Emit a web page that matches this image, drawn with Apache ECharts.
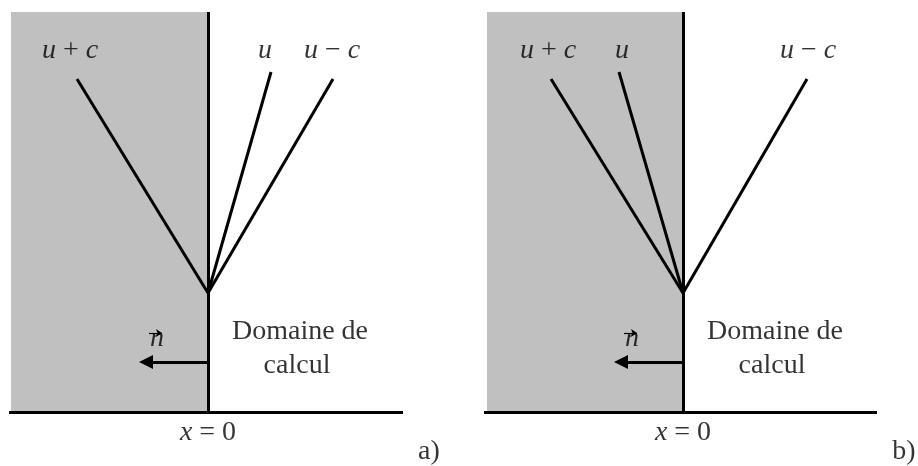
<!DOCTYPE html>
<html>
<head>
<meta charset="utf-8">
<script src="https://cdn.jsdelivr.net/npm/echarts@6/dist/echarts.min.js"></script>
<style>
  html, body { margin: 0; padding: 0; background: #ffffff; }
  #chart { width: 918px; height: 466px; }
</style>
</head>
<body>
<div id="chart"></div>
<script>
// panel labels and characteristic names
const panelNames = ["a)", "b)"];
const charNames = ["u + c", "u", "u − c"];
const boundaryLabel = "x = 0";
const domainLines = ["Domaine de", "calcul"];
const normalName = "n";

// diagram values, in pixel-like units: x relative to the boundary, y = time
const footT = 119;        // where the three characteristics meet the boundary
const topT = 400;         // top of the diagram
const leftX = [-199, -199];   // baseline start
const rightX = [195, 194];    // baseline end
const ghostLeft = [-197, -196]; // left edge of the grey zone
const charEnds = [
  [[-131, 333], [63, 340], [125, 333]],
  [[-132, 333], [-64, 340], [124, 333]],
];
const normalArrow = [[0, 50], [-62, 50]];
const normalVec = [[-59, 79], [-46, 79]];

// label anchor points
const charLabelPos = [
  [[-138, 361], [57, 361], [124, 361]],
  [[-135, 361], [-61, 361], [125, 361]],
];
const domainPos = [[92, 80], [89, 46]];
const normalPos = [-51, 73];
const boundaryPos = [0, -20.5];
const panelPos = [221, -39.5];

const grids = [
  { left: 0, top: 0, width: 459, height: 466 },
  { left: 459, top: 0, width: 459, height: 466 },
];
const xRanges = [[-208, 251], [-224, 235]];

function mathText(s) {
  return s.replace(/([a-z])/g, "{i|$1}");
}

const chart = echarts.init(document.getElementById("chart"));

const series = [];
const xAxis = [];
const yAxis = [];

panelNames.forEach(function (name, p) {
  xAxis.push({ type: "value", gridIndex: p, min: xRanges[p][0], max: xRanges[p][1], show: false });
  yAxis.push({ type: "value", gridIndex: p, min: -54, max: 412, show: false });

  // grey zone + boundary + baseline + characteristics
  const segs = [
    { coords: [[0, 0], [0, topT]] },
    { coords: [[leftX[p], 0], [rightX[p], 0]] },
  ];
  charEnds[p].forEach(function (e) {
    segs.push({ coords: [[0, footT], e] });
  });
  series.push({
    type: "lines",
    coordinateSystem: "cartesian2d",
    xAxisIndex: p,
    yAxisIndex: p,
    polyline: false,
    symbol: "none",
    z: 3,
    lineStyle: { color: "#000000", width: 3, opacity: 1 },
    data: segs,
    markArea: {
      silent: true,
      itemStyle: { color: "#c0c0c0" },
      data: [[{ coord: [ghostLeft[p], 0] }, { coord: [0, topT] }]],
    },
  });

  // outward normal arrow
  series.push({
    type: "lines",
    coordinateSystem: "cartesian2d",
    xAxisIndex: p,
    yAxisIndex: p,
    symbol: ["none", "triangle"],
    symbolSize: [10, 14],
    z: 4,
    lineStyle: { color: "#000000", width: 3, opacity: 1 },
    data: [{ coords: normalArrow }],
  });
  // small vector sign above n
  series.push({
    type: "lines",
    coordinateSystem: "cartesian2d",
    xAxisIndex: p,
    yAxisIndex: p,
    symbol: ["none", "arrow"],
    symbolSize: [6, 6],
    z: 4,
    lineStyle: { color: "#000000", width: 1.2, opacity: 1 },
    data: [{ coords: normalVec }],
  });

  // text labels
  const labels = [];
  charNames.forEach(function (c, i) {
    labels.push([charLabelPos[p][i][0], charLabelPos[p][i][1], mathText(c)]);
  });
  labels.push([domainPos[0][0], domainPos[0][1], domainLines[0]]);
  labels.push([domainPos[1][0], domainPos[1][1], domainLines[1]]);
  labels.push([normalPos[0], normalPos[1], mathText(normalName)]);
  labels.push([boundaryPos[0], boundaryPos[1], mathText(boundaryLabel)]);
  labels.push([panelPos[0], panelPos[1], name]);

  series.push({
    type: "scatter",
    xAxisIndex: p,
    yAxisIndex: p,
    symbolSize: 0,
    z: 5,
    silent: true,
    data: labels,
    label: {
      show: true,
      position: "inside",
      align: "center",
      verticalAlign: "middle",
      fontFamily: "Liberation Serif",
      fontSize: 28,
      color: "#000000",
      textBorderWidth: 0,
      textBorderColor: "transparent",
      formatter: function (d) { return d.value[2]; },
      rich: {
        i: {
          fontFamily: "Liberation Serif",
          fontStyle: "italic",
          fontSize: 28,
          color: "#000000",
          textBorderWidth: 0,
          textBorderColor: "transparent",
        },
      },
    },
  });
});

chart.setOption({
  animation: false,
  backgroundColor: "#ffffff",
  grid: grids,
  xAxis: xAxis,
  yAxis: yAxis,
  series: series,
});
</script>
</body>
</html>
